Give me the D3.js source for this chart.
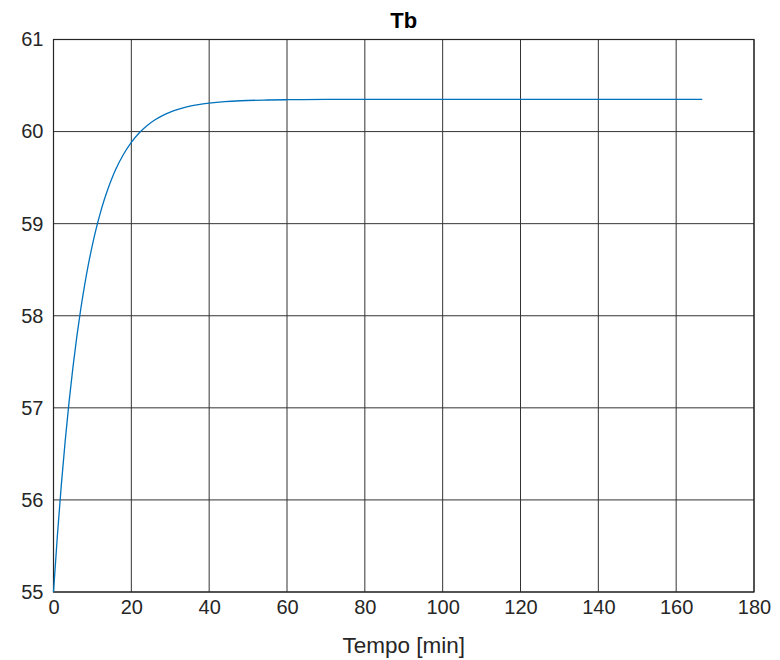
<!DOCTYPE html>
<html><head><meta charset="utf-8">
<script src="https://cdn.jsdelivr.net/npm/d3@7"></script>
<style>body{margin:0;background:#fff;} text{font-family:"Liberation Sans",Arial,sans-serif;}</style>
</head><body>
<svg id="c" width="780" height="660"></svg>
<script>
const timeMin = [0,1,2,3,4,5,6,7,8,9,10,11,12,13,14,15,16,18,20,22,24,26,28,30,32,34,36,38,40,44,48,55,60,70,80,120,166.7];
const tbValues = [55.000,55.614,56.158,56.639,57.065,57.442,57.776,58.071,58.333,58.565,58.770,58.951,59.112,59.254,59.380,59.491,59.590,59.754,59.883,59.984,60.063,60.125,60.174,60.212,60.242,60.265,60.284,60.298,60.309,60.325,60.335,60.343,60.346,60.349,60.350,60.350,60.350];
const xTicks = [0,20,40,60,80,100,120,140,160,180];
const yTicks = [55,56,57,58,59,60,61];
const titleText = "Tb";
const xLabel = "Tempo [min]";

const svg = d3.select("#c");
const L = 53.5, R = 754, T = 39.5, B = 592;
const x = d3.scaleLinear().domain([0,180]).range([L,R]);
const y = d3.scaleLinear().domain([55,61]).range([B,T]);

// grid
svg.append("g").selectAll("line").data(xTicks).join("line")
  .attr("x1",d=>x(d)).attr("x2",d=>x(d)).attr("y1",T).attr("y2",B)
  .attr("stroke","#333").attr("stroke-width",1);
svg.append("g").selectAll("line").data(yTicks).join("line")
  .attr("y1",d=>y(d)).attr("y2",d=>y(d)).attr("x1",L).attr("x2",R)
  .attr("stroke","#333").attr("stroke-width",1);

// axes
const xa = svg.append("g").attr("transform",`translate(0,${B})`)
  .call(d3.axisBottom(x).tickValues(xTicks).tickFormat(d3.format("d")).tickSize(0).tickPadding(8));
const ya = svg.append("g").attr("transform",`translate(${L},0)`)
  .call(d3.axisLeft(y).tickValues(yTicks).tickFormat(d3.format("d")).tickSize(0).tickPadding(10));
[xa,ya].forEach(a=>{
  a.select(".domain").remove();
  a.selectAll("text").attr("font-size",20).attr("fill","#262626")
   .attr("font-family","Liberation Sans, Arial, sans-serif");
});

// box
svg.append("rect").attr("x",L).attr("y",T).attr("width",R-L).attr("height",B-T)
  .attr("fill","none").attr("stroke","#262626").attr("stroke-width",1.2);

// line
const line = d3.line().x((d,i)=>x(timeMin[i])).y(d=>y(d)).curve(d3.curveMonotoneX);
svg.append("path").datum(tbValues).attr("d",line)
  .attr("fill","none").attr("stroke","#0072BD").attr("stroke-width",1.3);

// title & label
svg.append("text").attr("x",(L+R)/2).attr("y",28).attr("text-anchor","middle")
  .attr("font-size",22).attr("font-weight","bold").attr("fill","#000").text(titleText);
svg.append("text").attr("x",(L+R)/2).attr("y",653).attr("text-anchor","middle")
  .attr("font-size",22.5).attr("fill","#262626").text(xLabel);
</script>
</body></html>
